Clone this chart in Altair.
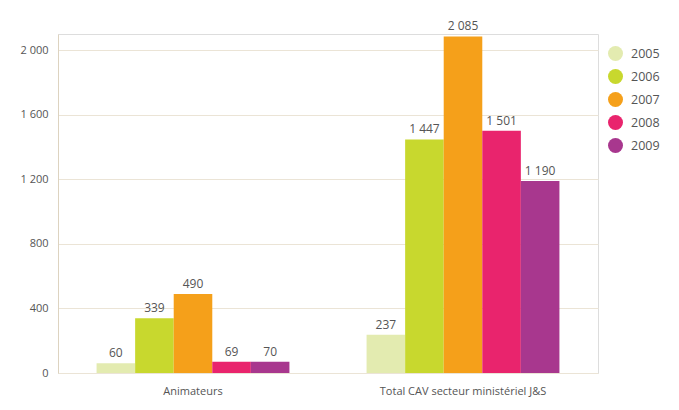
import altair as alt
import pandas as pd

categories = ["Animateurs", "Total CAV secteur ministériel J&S"]
years = ["2005", "2006", "2007", "2008", "2009"]
animateurs = [60, 339, 490, 69, 70]
total_cav = [237, 1447, 2085, 1501, 1190]
colors = ["#e3ebb0", "#c8d82e", "#f5a01a", "#e9246d", "#a8378e"]

rows = []
for cat, vals in zip(categories, [animateurs, total_cav]):
    for y, v in zip(years, vals):
        rows.append({"cat": cat, "year": y, "value": v})
df = pd.DataFrame(rows)

font = "Open Sans"

base = alt.Chart(df).encode(
    x=alt.X("cat:N", sort=categories, title=None,
            scale=alt.Scale(paddingInner=0, paddingOuter=0),
            axis=alt.Axis(labelAngle=0, labelPadding=12, ticks=False, domain=False,
                          labelFont=font, labelFontSize=11, labelColor="#555555")),
    xOffset=alt.XOffset("year:N", sort=years,
                        scale=alt.Scale(paddingInner=0, paddingOuter=1)),
)

bars = base.mark_bar().encode(
    y=alt.Y("value:Q", title=None,
            scale=alt.Scale(domain=[0, 2100], nice=False),
            axis=alt.Axis(values=[0, 400, 800, 1200, 1600, 2000],
                          labelExpr="replace(format(datum.value, ','), ',', ' ')",
                          ticks=False, domain=True, domainColor="#ddd3c0",
                          grid=True, gridColor="#ebe4d6", labelPadding=10,
                          labelFont=font, labelFontSize=11, labelColor="#555555")),
    color=alt.Color("year:N", sort=years,
                    scale=alt.Scale(domain=years, range=colors),
                    legend=alt.Legend(title=None, orient="none", legendX=550, legendY=12,
                                      symbolType="circle", symbolSize=225,
                                      labelFont=font, labelFontSize=12.5, labelColor="#555555",
                                      labelOffset=8, rowPadding=8, symbolStrokeWidth=0)),
)

labels = base.mark_text(baseline="bottom", dy=-3, font=font, fontSize=12,
                        color="#555555").encode(
    y="value:Q",
    text=alt.Text("label:N"),
).transform_calculate(label="replace(format(datum.value, ','), ',', ' ')")

chart = alt.layer(bars, labels).properties(
    width=540, height=339,
    padding={"left": 50, "top": 26, "right": 73, "bottom": 29},
    autosize="none",
).configure_view(stroke=None).configure(background="#ffffff")

chart.save("out.html", embed_options={"renderer": "svg", "actions": False})
